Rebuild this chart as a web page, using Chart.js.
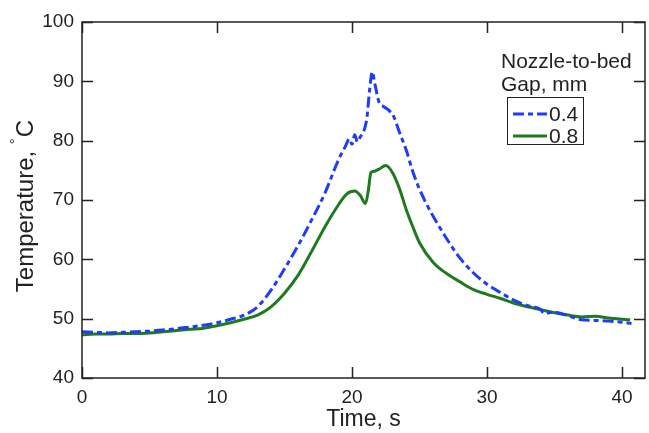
<!DOCTYPE html>
<html lang="en">
<head>
  <meta charset="UTF-8">
  <title>Nozzle-to-bed gap temperature</title>
  <script src="https://cdn.jsdelivr.net/npm/chart.js"></script>
</head>
<style>
  body {
    margin: 0;
    padding: 0;
    background: #fff;
  }
</style>
<body>
<canvas id="tempChart" width="649" height="433"></canvas>

<script>
  // data
  const time04 = [0, 1, 2, 3, 4, 5, 6, 7, 8, 9, 10, 11, 12, 13, 14, 15, 16, 17, 18, 19,
    19.5, 19.8, 20.0, 20.2, 20.4, 20.6, 20.9, 21.1, 21.3, 21.5, 21.7, 22.0, 22.3, 22.7, 23.1,
    23.5, 24.0, 24.5, 25.0, 25.5, 26.0, 27, 28, 29, 30, 31, 32, 33, 34, 34.2, 35, 36, 37, 38, 39, 40, 40.7];
  const temp04 = [47.8, 47.7, 47.6, 47.7, 47.8, 47.9, 48.1, 48.3, 48.6, 48.9, 49.3, 49.9, 50.6, 52.0, 54.8, 58.4, 62.3, 66.6, 71.2, 76.8,
    79.0, 80.3, 79.4, 81.0, 79.8, 80.6, 81.8, 83.8, 88.5, 91.6, 89.5, 86.5, 85.8, 85.2, 84.0,
    81.5, 78.5, 74.8, 71.8, 69.4, 67.3, 63.5, 60.2, 57.7, 55.8, 54.4, 53.1, 52.2, 51.5, 50.9, 51.1, 50.5, 49.8, 49.7, 49.6, 49.4, 49.2];

  const time08 = [0, 1, 2, 3, 4, 5, 6, 7, 8, 9, 10, 11, 12, 13, 14, 15, 16, 17, 18, 19,
    19.6, 20.2, 20.6, 21.0, 21.2, 21.4, 21.6, 22.0, 22.5, 23.0, 23.5, 24.0, 24.5, 25, 26, 27, 28,
    29, 30, 31, 32, 33, 34, 35, 36, 37, 38, 39, 40, 40.6];
  const temp08 = [47.3, 47.4, 47.4, 47.5, 47.5, 47.6, 47.8, 48.0, 48.2, 48.4, 48.8, 49.3, 49.9, 50.6, 52.0, 54.3, 57.3, 61.3, 65.5, 69.2,
    71.0, 71.5, 70.8, 69.4, 71.5, 74.6, 74.8, 75.2, 75.8, 74.6, 72.0, 68.5, 65.5, 62.8, 59.5, 57.6, 56.2,
    54.9, 54.1, 53.4, 52.6, 52.0, 51.5, 51.0, 50.6, 50.3, 50.4, 50.1, 49.9, 49.8];

  const xTicks = [0, 10, 20, 30, 40];
  const yTicks = [40, 50, 60, 70, 80, 90, 100];
  const legendTitle = ['Nozzle-to-bed', 'Gap, mm'];
  const gapLabels = ['0.4', '0.8'];

  const toPoints = (xs, ys) => xs.map((x, i) => ({ x: x, y: ys[i] }));

  // box with inward ticks, y title with raised degree sign, legend inside the plot
  const framePlugin = {
    id: 'frame',
    afterDraw(chart) {
      const ctx = chart.ctx;
      const a = chart.chartArea;
      const xs = chart.scales.x;
      const ys = chart.scales.y;
      const tl = 11;

      ctx.save();
      ctx.strokeStyle = '#222';
      ctx.lineWidth = 1.5;
      ctx.strokeRect(a.left, a.top, a.right - a.left, a.bottom - a.top);
      ctx.beginPath();
      xTicks.forEach(v => {
        const px = Math.round(xs.getPixelForValue(v)) + 0.5;
        ctx.moveTo(px, a.bottom); ctx.lineTo(px, a.bottom - tl);
        ctx.moveTo(px, a.top); ctx.lineTo(px, a.top + tl);
      });
      yTicks.forEach(v => {
        const py = Math.round(ys.getPixelForValue(v)) + 0.5;
        ctx.moveTo(a.left, py); ctx.lineTo(a.left + tl, py);
        ctx.moveTo(a.right, py); ctx.lineTo(a.right - tl, py);
      });
      ctx.stroke();

      // y title
      ctx.fillStyle = '#222';
      ctx.translate(33, (a.top + a.bottom) / 2 + 6);
      ctx.rotate(-Math.PI / 2);
      ctx.textBaseline = 'alphabetic';
      ctx.textAlign = 'left';
      const big = '24px "Liberation Sans", Arial, sans-serif';
      const small = '15px "Liberation Sans", Arial, sans-serif';
      ctx.font = big;
      const w1 = ctx.measureText('Temperature, ').width;
      const w3 = ctx.measureText('C').width;
      ctx.font = small;
      const w2 = ctx.measureText('°').width + 1;
      let x0 = -(w1 + w2 + w3) / 2;
      ctx.font = big;
      ctx.fillText('Temperature, ', x0, 0);
      ctx.font = small;
      ctx.fillText('°', x0 + w1, -13);
      ctx.font = big;
      ctx.fillText('C', x0 + w1 + w2, 0);
      ctx.restore();

      // legend
      ctx.save();
      ctx.fillStyle = '#222';
      ctx.font = '21px "Liberation Sans", Arial, sans-serif';
      ctx.textAlign = 'left';
      ctx.textBaseline = 'alphabetic';
      ctx.fillText(legendTitle[0], 501, 68);
      ctx.fillText(legendTitle[1], 501, 91);
      ctx.strokeStyle = '#222';
      ctx.lineWidth = 1;
      ctx.strokeRect(507.5, 97.5, 76, 47);
      chart.data.datasets.forEach((ds, i) => {
        const ly = 114 + i * 22;
        ctx.beginPath();
        ctx.strokeStyle = ds.borderColor;
        ctx.lineWidth = ds.borderWidth;
        ctx.setLineDash(ds.borderDash || []);
        ctx.moveTo(513, ly);
        ctx.lineTo(547, ly);
        ctx.stroke();
        ctx.setLineDash([]);
        ctx.textBaseline = 'middle';
        ctx.fillText(gapLabels[i], 549, ly + 1);
      });
      ctx.restore();
    }
  };

  const ctx = document.getElementById('tempChart').getContext('2d');
  const tempChart = new Chart(ctx, {
    type: 'line',
    data: {
      datasets: [{
        label: gapLabels[0],
        data: toPoints(time04, temp04),
        borderColor: '#1f3cf7',
        borderWidth: 3,
        borderDash: [11, 4, 5, 4],
        pointRadius: 0,
        cubicInterpolationMode: 'monotone',
        fill: false
      }, {
        label: gapLabels[1],
        data: toPoints(time08, temp08),
        borderColor: '#1f7a1f',
        borderWidth: 3,
        pointRadius: 0,
        cubicInterpolationMode: 'monotone',
        fill: false
      }]
    },
    options: {
      responsive: false,
      animation: false,
      devicePixelRatio: 1,
      layout: { padding: { top: 22, right: 4, left: 0, bottom: 0 } },
      plugins: {
        legend: { display: false },
        tooltip: { enabled: false }
      },
      scales: {
        x: {
          type: 'linear',
          min: 0,
          max: 41.7,
          afterBuildTicks: s => { s.ticks = xTicks.map(v => ({ value: v })); },
          afterFit: s => { s.height = 55; },
          grid: { display: false, drawTicks: false },
          border: { display: false },
          ticks: {
            color: '#222',
            padding: 8,
            maxRotation: 0,
            font: { family: '"Liberation Sans", Arial, sans-serif', size: 19 }
          },
          title: {
            display: true,
            text: 'Time, s',
            color: '#222',
            padding: { top: 0, bottom: 0 },
            font: { family: '"Liberation Sans", Arial, sans-serif', size: 23 }
          }
        },
        y: {
          min: 40,
          max: 100,
          afterBuildTicks: s => { s.ticks = yTicks.map(v => ({ value: v })); },
          afterFit: s => { s.width = 82; },
          grid: { display: false, drawTicks: false },
          border: { display: false },
          ticks: {
            color: '#222',
            padding: 8,
            font: { family: '"Liberation Sans", Arial, sans-serif', size: 19 }
          }
        }
      }
    },
    plugins: [framePlugin]
  });
</script>

</body>
</html>
